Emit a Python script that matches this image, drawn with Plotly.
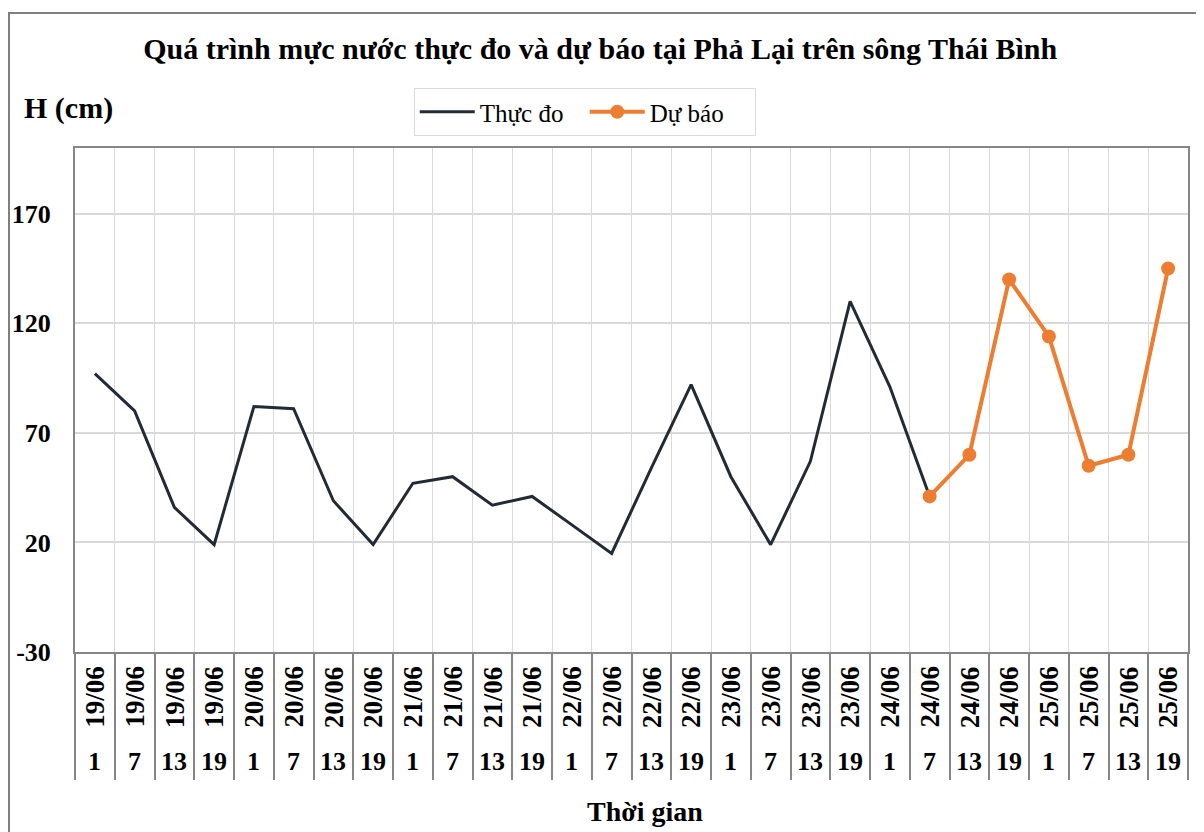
import plotly.graph_objects as go

dates = ["19/06"] * 4 + ["20/06"] * 4 + ["21/06"] * 4 + ["22/06"] * 4 + ["23/06"] * 4 + ["24/06"] * 4 + ["25/06"] * 4
hours = ["1", "7", "13", "19"] * 7
categories = [f"{d} {h}" for d, h in zip(dates, hours)]

observed = [97, 80, 36, 19, 82, 81, 39, 19, 47, 50, 37, 41, 28, 15, 54, 92, 50, 19, 57, 130, 91, 41]
forecast = [41, 60, 140, 114, 55, 60, 145]
forecast_start = 21

y_ticks = [-30, 20, 70, 120, 170]

FONT = "Liberation Serif"
GRAY = "#868686"
W, H = 1194, 824

fig = go.Figure()
fig.add_trace(go.Scatter(
    x=categories[:len(observed)], y=observed, mode="lines", name="Thực đo",
    line=dict(color="#222a35", width=3),
))
fig.add_trace(go.Scatter(
    x=categories[forecast_start:forecast_start + len(forecast)], y=forecast,
    mode="lines+markers", name="Dự báo",
    line=dict(color="#ed7d31", width=4),
    marker=dict(color="#ed7d31", size=14),
))

annotations = []
for c, d, h in zip(categories, dates, hours):
    annotations.append(dict(x=c, y=-0.089, xref="x", yref="paper", text=f"<b>{d}</b>",
                            textangle=-90, showarrow=False, xanchor="center", yanchor="middle",
                            font=dict(family=FONT, size=27, color="black")))
    annotations.append(dict(x=c, y=-0.218, xref="x", yref="paper", text=f"<b>{h}</b>",
                            showarrow=False, xanchor="center", yanchor="middle",
                            font=dict(family=FONT, size=26, color="black")))
annotations.append(dict(x=-0.048, y=1.079, xref="paper", yref="paper", text="<b>H (cm)</b>",
                        xanchor="left", yanchor="middle", showarrow=False,
                        font=dict(family=FONT, size=30, color="black")))
annotations.append(dict(x=0.512, y=-0.317, xref="paper", yref="paper", text="<b>Thời gian</b>",
                        xanchor="center", yanchor="middle", showarrow=False,
                        font=dict(family=FONT, size=28, color="black")))

fig.update_layout(
    width=W, height=H,
    margin=dict(l=67, r=14, t=140, b=180, autoexpand=False),
    paper_bgcolor="white", plot_bgcolor="white",
    font=dict(family=FONT, color="black"),
    title=dict(text="<b>Quá trình mực nước thực đo và dự báo tại Phả Lại trên sông Thái Bình</b>",
               x=0.496, xanchor="center", y=1 - 40 / H, yanchor="middle",
               font=dict(family=FONT, size=30, color="black")),
    showlegend=True,
    legend=dict(orientation="h", x=0.458, xanchor="center", y=1.119, yanchor="top",
                bordercolor="#d9d9d9", borderwidth=1, bgcolor="white",
                font=dict(family=FONT, size=25, color="black"),
                itemwidth=55, entrywidth=100, entrywidthmode="pixels"),
    annotations=annotations,
    shapes=[dict(type="rect", xref="paper", yref="paper", x0=-0.0593, x1=1.2, y0=-0.6, y1=1.268,
                 line=dict(color="#7f7f7f", width=2), fillcolor="rgba(0,0,0,0)", layer="below")],
)
fig.update_xaxes(
    type="category", categoryorder="array", categoryarray=categories,
    range=[-0.5, len(categories) - 0.5], automargin=False,
    tickson="boundaries", ticks="outside", ticklen=126, tickcolor=GRAY, tickwidth=1.5,
    showticklabels=False, showgrid=True, gridcolor="#d9d9d9", gridwidth=1,
    showline=True, mirror=True, linecolor=GRAY, linewidth=2, zeroline=False,
)
fig.update_yaxes(
    range=[-30, 200], tickvals=y_ticks, ticktext=[f"<b>{v}</b>" for v in y_ticks],
    tickfont=dict(family=FONT, size=26, color="black"), ticks="", ticklabelstandoff=17,
    automargin=False,
    showgrid=True, gridcolor="#d9d9d9", gridwidth=1.5,
    showline=True, mirror=True, linecolor=GRAY, linewidth=2, zeroline=False,
)

fig.write_html("out.html")
